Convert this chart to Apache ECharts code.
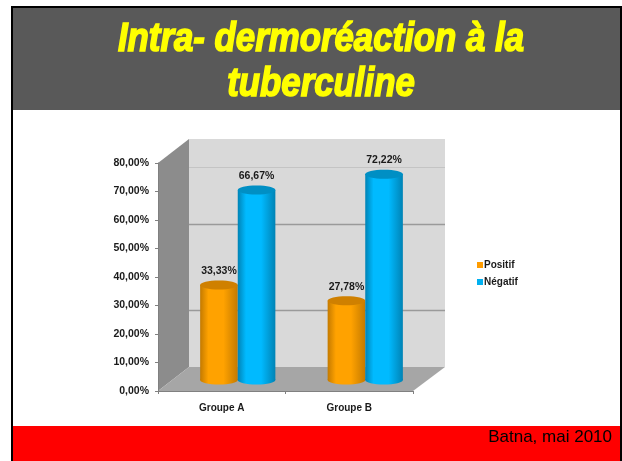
<!DOCTYPE html>
<html>
<head>
<meta charset="utf-8">
<style>
html, body { margin: 0; padding: 0; background: #fff; }
#main { width: 622px; height: 461px; }
</style>
<script src="https://cdn.jsdelivr.net/npm/echarts@6/dist/echarts.min.js"></script>
</head>
<body>
<div id="main"></div>
<script>
var categories = ['Groupe A', 'Groupe B'];
var positif = [33.33, 27.78];
var negatif = [66.67, 72.22];
var backLines = [20, 50, 70];

var chart = echarts.init(document.getElementById('main'));

// depth of the fake 3D box, and where the cylinders stand in it
var depthX = 31, depthY = 24;
var barDX = 16, barDY = 11, barRatio = 0.295, ry = 4.5;

function percent(v) {
    return v.toFixed(2).replace('.', ',') + '%';
}

function renderWalls(params, api) {
    var r = params.coordSys;
    var x0 = r.x, x1 = r.x + r.width, yT = r.y, yB = r.y + r.height;
    var children = [
        { type: 'rect', shape: { x: x0 + depthX, y: yT - depthY, width: r.width + 1, height: r.height },
          style: { fill: '#d9d9d9' } },
        { type: 'polygon', shape: { points: [[x0, yB], [x0, yT], [x0 + depthX, yT - depthY], [x0 + depthX, yB - depthY]] },
          style: { fill: '#8c8c8c' } },
        { type: 'polygon', shape: { points: [[x0, yB], [x1, yB], [x1 + depthX + 1, yB - depthY], [x0 + depthX, yB - depthY]] },
          style: { fill: '#a6a6a6' } }
    ];
    backLines.forEach(function (v, i) {
        var y = Math.floor(api.coord([0, v])[1] - depthY) + 0.5;
        children.push({
            type: 'line',
            shape: { x1: x0 + depthX, y1: y, x2: x1 + depthX + 1, y2: y },
            style: { stroke: i === 2 ? '#c4c4c4' : '#9a9a9a', lineWidth: i === 2 ? 1 : 1.4 }
        });
    });
    return { type: 'group', children: children };
}

function makeCylinder(side, edge, main, top) {
    return function (params, api) {
        var band = api.size([1, 0])[0];
        var w = band * barRatio;
        var base = api.coord([api.value(0), 0]);
        var head = api.coord([api.value(0), api.value(1)]);
        var cx = base[0] + barDX + side * w / 2;
        var yBase = base[1] - barDY;
        var yTop = head[1] - barDY;
        var fill = new echarts.graphic.LinearGradient(0, 0, 1, 0, [
            { offset: 0, color: edge },
            { offset: 0.22, color: main },
            { offset: 0.62, color: main },
            { offset: 1, color: edge }
        ]);
        return {
            type: 'group',
            children: [
                { type: 'ellipse', shape: { cx: cx, cy: yBase, rx: w / 2, ry: ry }, style: { fill: fill } },
                { type: 'rect', shape: { x: cx - w / 2, y: yTop, width: w, height: yBase - yTop }, style: { fill: fill } },
                { type: 'ellipse', shape: { cx: cx, cy: yTop, rx: w / 2, ry: ry }, style: { fill: top } },
                { type: 'text', x: cx, y: yTop - 14,
                  style: { text: percent(api.value(1)), align: 'center', verticalAlign: 'middle',
                           font: 'bold 10.5px "Liberation Sans", Arial, sans-serif', fill: '#1a1a1a' } }
            ]
        };
    };
}

var option = {
    animation: false,
    backgroundColor: '#fff',
    graphic: [
        { type: 'rect', shape: { x: 11, y: 6, width: 611, height: 455 }, style: { fill: '#000' }, z: -10 },
        { type: 'rect', shape: { x: 13, y: 8, width: 607, height: 453 }, style: { fill: '#fff' }, z: -9 },
        { type: 'rect', shape: { x: 13, y: 8, width: 607, height: 102 }, style: { fill: '#595959' }, z: -8 },
        { type: 'rect', shape: { x: 13, y: 426, width: 607, height: 35 }, style: { fill: '#ff0000' }, z: -8 },
        // the slide title is a condensed heavy italic, so the text is squeezed sideways
        { type: 'text', x: 321, y: 17, scaleX: 0.87, z: 1,
          style: { text: 'Intra- dermoréaction à la\ntuberculine', align: 'center', verticalAlign: 'top',
                   font: 'italic bold 40px "Liberation Sans", Arial, sans-serif', lineHeight: 45,
                   fill: '#ffff00', stroke: '#ffff00', lineWidth: 1.6 } },
        { type: 'text', x: 612, y: 437, z: 1,
          style: { text: 'Batna, mai 2010', align: 'right', verticalAlign: 'middle',
                   font: '17px "Liberation Sans", Arial, sans-serif', fill: '#000' } }
    ],
    legend: {
        data: ['Positif', 'Négatif'],
        orient: 'vertical',
        left: 472,
        top: 254,
        icon: 'rect',
        itemWidth: 6,
        itemHeight: 6,
        itemGap: 5,
        textStyle: {
            fontFamily: '"Liberation Sans", Arial, sans-serif',
            fontSize: 10,
            lineHeight: 12,
            fontWeight: 'bold',
            color: '#1a1a1a',
            padding: [0, 0, 0, -4]
        }
    },
    grid: { left: 158, top: 163, width: 255, height: 228, containLabel: false },
    xAxis: {
        type: 'category',
        data: categories,
        z: 5,
        axisLine: { lineStyle: { color: '#808080' } },
        axisTick: { show: true, length: 3, lineStyle: { color: '#808080' } },
        axisLabel: {
            margin: 12,
            fontFamily: '"Liberation Sans", Arial, sans-serif',
            fontSize: 10,
            fontWeight: 'bold',
            color: '#1a1a1a'
        }
    },
    yAxis: {
        type: 'value',
        min: 0,
        max: 80,
        interval: 10,
        z: 5,
        splitLine: { show: false },
        axisLine: { show: true, lineStyle: { color: '#808080' } },
        axisTick: { show: true, length: 3, lineStyle: { color: '#808080' } },
        axisLabel: {
            margin: 9,
            formatter: percent,
            fontFamily: '"Liberation Sans", Arial, sans-serif',
            fontSize: 10.5,
            fontWeight: 'bold',
            color: '#1a1a1a'
        }
    },
    series: [
        {
            name: 'walls',
            type: 'custom',
            coordinateSystem: 'cartesian2d',
            renderItem: renderWalls,
            data: [[0, 0]],
            clip: false,
            silent: true,
            z: 1
        },
        {
            name: 'Positif',
            type: 'custom',
            coordinateSystem: 'cartesian2d',
            renderItem: makeCylinder(-1, '#c47a00', '#ffa200', '#cf8000'),
            itemStyle: { color: '#ff9c00' },
            data: categories.map(function (c, i) { return [i, positif[i]]; }),
            encode: { x: 0, y: 1 },
            clip: false,
            z: 2
        },
        {
            name: 'Négatif',
            type: 'custom',
            coordinateSystem: 'cartesian2d',
            renderItem: makeCylinder(1, '#0083b5', '#00baff', '#008fc4'),
            itemStyle: { color: '#00b0f0' },
            data: categories.map(function (c, i) { return [i, negatif[i]]; }),
            encode: { x: 0, y: 1 },
            clip: false,
            z: 3
        }
    ]
};

chart.setOption(option);
</script>
</body>
</html>
